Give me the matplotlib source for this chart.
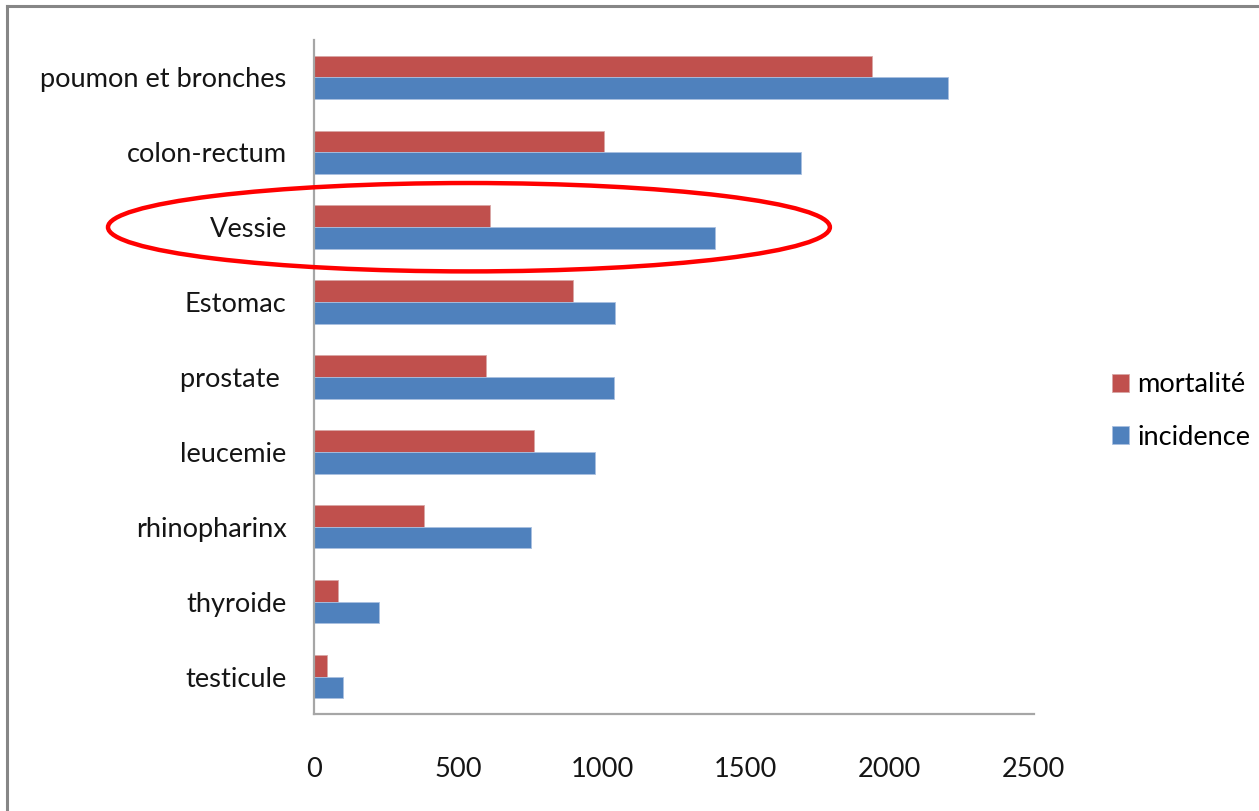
import matplotlib

matplotlib.use("Agg")
import matplotlib.pyplot as plt
import numpy as np
from matplotlib.lines import Line2D
from matplotlib.patches import Ellipse

categories = [
    "poumon et bronches",
    "colon-rectum",
    "Vessie",
    "Estomac",
    "prostate ",
    "leucemie",
    "rhinopharinx",
    "thyroide",
    "testicule",
]
mortalite = [1937, 1008, 610, 899, 595, 762, 380, 81, 42]
incidence = [2202, 1693, 1394, 1046, 1041, 976, 752, 223, 100]
x_ticks = [0, 500, 1000, 1500, 2000, 2500]
highlight = "Vessie"

RED = "#C0504D"
BLUE = "#4F81BD"
AXIS_GREY = "#A6A6A6"

plt.rcParams["font.family"] = ["Lato", "DejaVu Sans"]

fig = plt.figure(figsize=(12.59, 8.11), dpi=100)
ax = fig.add_axes([0.2498, 0.1196, 0.8209 - 0.2498, 0.9507 - 0.1196])

y = np.arange(len(categories))
h = 0.29
ax.barh(y - h / 2, mortalite, height=h, color=RED, edgecolor="#d9a6a5",
        linewidth=0.6, label="mortalité")
ax.barh(y + h / 2, incidence, height=h, color=BLUE, edgecolor="#a9c0e0",
        linewidth=0.6, label="incidence")

ax.set_ylim(len(categories) - 0.5, -0.5)
ax.set_xlim(0, 2500)
ax.set_xticks(x_ticks)
ax.set_yticks(y)
ax.set_yticklabels(categories)
ax.tick_params(axis="both", length=0, labelsize=19.6, colors="#151515")
ax.tick_params(axis="x", pad=31)
ax.tick_params(axis="y", pad=20)

for side in ("top", "right"):
    ax.spines[side].set_visible(False)
for side in ("left", "bottom"):
    ax.spines[side].set_color(AXIS_GREY)
    ax.spines[side].set_linewidth(1.6)

# red ellipse around the highlighted category
yi = categories.index(highlight)
ell = Ellipse((537, yi), width=2510, height=1.18, fill=False,
              edgecolor="#FF0000", linewidth=3.2, clip_on=False, zorder=5)
ax.add_patch(ell)

fig.legend(loc="center left", bbox_to_anchor=(1098 / 1259, 1 - 411 / 811),
           frameon=False, fontsize=19.6, handlelength=0.65, handleheight=0.65,
           handletextpad=0.3, labelspacing=1.0, borderpad=0)

# chart frame (top and left edges visible)
fig.add_artist(Line2D([7 / 1259, 1], [1 - 6 / 811, 1 - 6 / 811],
                      transform=fig.transFigure, color="#868686", linewidth=2.2))
fig.add_artist(Line2D([7 / 1259, 7 / 1259], [0, 1 - 6 / 811],
                      transform=fig.transFigure, color="#868686", linewidth=2.2))

fig.savefig("out.png", dpi=100, facecolor="white")
